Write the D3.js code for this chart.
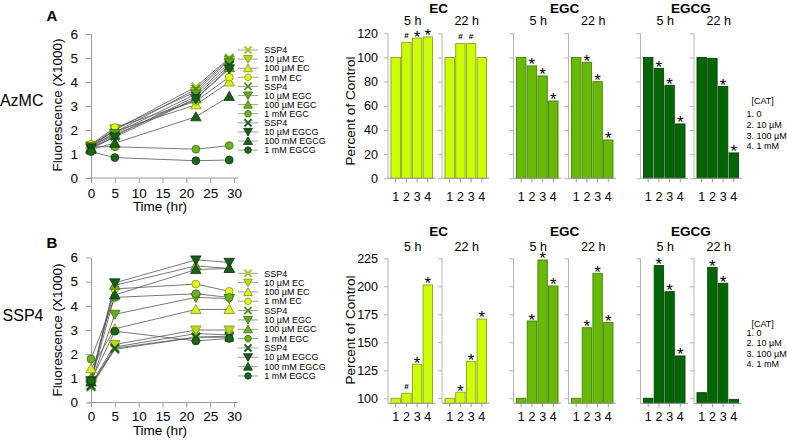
<!DOCTYPE html>
<html><head><meta charset="utf-8">
<script src="https://cdn.jsdelivr.net/npm/d3@7"></script>
<style>
body{margin:0;background:#fff}
svg{display:block}
text{font-family:Arial,"Liberation Sans",sans-serif}
</style>
</head><body>
<svg id="c" width="787" height="443"></svg>
<script>
// ---------------- DATA ----------------
const timePoints = [0, 5, 22, 29];
const seriesNames = ["SSP4","10 µM EC","100 µM EC","1 mM EC","SSP4","10 µM EGC","100 µM EGC","1 mM EGC","SSP4","10 µM EGCG","100 mM EGCG","1 mM EGCG"];
const seriesGroups = ["EC","EC","EC","EC","EGC","EGC","EGC","EGC","EGCG","EGCG","EGCG","EGCG"];
const seriesShapes = ["x","down","up","circle","x","down","up","circle","x","down","up","circle"];

// Fluorescence (x1000), AzMC substrate
const azmcSeries = [
  [1.30, 2.00, 3.80, 5.00],
  [1.35, 2.05, 3.60, 4.90],
  [1.40, 1.95, 3.05, 4.00],
  [1.40, 2.10, 3.20, 4.20],
  [1.30, 1.90, 3.70, 4.95],
  [1.30, 1.85, 3.50, 4.80],
  [1.25, 1.80, 3.30, 4.60],
  [1.30, 1.30, 1.20, 1.35],
  [1.20, 1.75, 3.40, 4.70],
  [1.25, 1.70, 3.30, 4.55],
  [1.20, 1.45, 2.55, 3.40],
  [1.10, 0.85, 0.72, 0.75]
];
// Fluorescence (x1000), SSP4 substrate
const ssp4Series = [
  [0.70, 2.30, 2.85, 2.80],
  [0.75, 2.40, 3.00, 3.00],
  [1.40, 3.05, 3.85, 3.85],
  [0.95, 4.70, 4.90, 4.60],
  [0.65, 2.20, 2.70, 2.75],
  [0.80, 3.65, 4.35, 4.30],
  [1.00, 4.85, 5.65, 5.55],
  [1.80, 4.35, 4.50, 4.35],
  [0.70, 2.25, 2.70, 2.70],
  [0.90, 4.95, 5.90, 5.80],
  [0.85, 4.45, 5.50, 5.55],
  [0.90, 2.95, 2.55, 2.65]
];
const lineYTicks = [0,1,2,3,4,5,6];
const lineXTicks = [0,5,10,15,20,25,30];

const barCategories = ["1","2","3","4"];
const compounds = ["EC","EGC","EGCG"];
const times = ["5 h","22 h"];
const catLegend = ["[CAT]","1. 0","2. 10 µM","3. 100 µM","4. 1 mM"];

// Percent of control, AzMC
const azmcEC5h   = [100, 112.5, 116, 117];
const azmcEC22h  = [100, 111.5, 111.5, 100];
const azmcEGC5h  = [100, 93, 84.7, 64];
const azmcEGC22h = [100, 96, 80, 31.7];
const azmcEGCG5h = [100, 91, 77, 45];
const azmcEGCG22h= [100, 99.3, 76, 21];
const azmcEC5hSig   = ["","#","*","*"];
const azmcEC22hSig  = ["","#","#",""];
const azmcEGC5hSig  = ["","*","*","*"];
const azmcEGC22hSig = ["","*","*","*"];
const azmcEGCG5hSig = ["","*","*","*"];
const azmcEGCG22hSig= ["","","*","*"];
const azmcBarTicks = [0,20,40,60,80,100,120];

// Percent of control, SSP4
const ssp4EC5h   = [100, 104.5, 130.4, 201.2];
const ssp4EC22h  = [100, 105.4, 132.7, 170.8];
const ssp4EGC5h  = [100, 169, 223.5, 200.3];
const ssp4EGC22h = [100, 163, 211.6, 167.6];
const ssp4EGCG5h = [100, 218.5, 195.2, 137.8];
const ssp4EGCG22h= [105, 216.9, 202.7, 99];
const ssp4EC5hSig   = ["","#","*","*"];
const ssp4EC22hSig  = ["","*","*","*"];
const ssp4EGC5hSig  = ["","*","*","*"];
const ssp4EGC22hSig = ["","*","*","*"];
const ssp4EGCG5hSig = ["","*","*","*"];
const ssp4EGCG22hSig= ["","*","*",""];
const ssp4BarTicks = [100,125,150,175,200,225];

// ---------------- STYLE / LAYOUT ----------------
const markerFill = ["#a6c62a","#bcd81c","#d8f21c","#e6ff20","#4f8f20","#66a81a","#6cb21f","#6cb21f","#1a5c1a","#1a5c1a","#1a5c1a","#1a661a"];
const groupStroke = {EC:"#7f9410", EGC:"#3c6e12", EGCG:"#0b3b0b"};
const barFill = {EC:"#ccff00", EGC:"#66bb00", EGCG:"#006600"};
const barStroke = {EC:"#8c9c30", EGC:"#4a7d14", EGCG:"#0c420c"};
const panelX = {EC:[388,442], EGC:[513.5,568.5], EGCG:[640.5,694]};
const panelW = 47.5;

const rows = [
  {letter:"A", letterY:20.7, label:"AzMC", labelY:106,
   series:azmcSeries, lineRange:[178,34], xLabY:197.8, timeY:211.3, yLabCY:105,
   legY0:50, legStep:9.1,
   barDomain:[0,120], barRange:[178.3,33.3], barTicks:azmcBarTicks,
   bars:{EC:[azmcEC5h,azmcEC22h], EGC:[azmcEGC5h,azmcEGC22h], EGCG:[azmcEGCG5h,azmcEGCG22h]},
   sigs:{EC:[azmcEC5hSig,azmcEC22hSig], EGC:[azmcEGC5hSig,azmcEGC22hSig], EGCG:[azmcEGCG5hSig,azmcEGCG22hSig]},
   headY:12.5, subY:24.5, catY:201.5, pocCY:111,
   catLegY:[103.5,116.8,127.8,138.5,149.2]},
  {letter:"B", letterY:247.7, label:"SSP4", labelY:321,
   series:ssp4Series, lineRange:[402.5,257.5], xLabY:421, timeY:434.5, yLabCY:330,
   legY0:273.3, legStep:9.33,
   barDomain:[95.5,225], barRange:[403.3,258.3], barTicks:ssp4BarTicks,
   bars:{EC:[ssp4EC5h,ssp4EC22h], EGC:[ssp4EGC5h,ssp4EGC22h], EGCG:[ssp4EGCG5h,ssp4EGCG22h]},
   sigs:{EC:[ssp4EC5hSig,ssp4EC22hSig], EGC:[ssp4EGC5hSig,ssp4EGC22hSig], EGCG:[ssp4EGCG5hSig,ssp4EGCG22hSig]},
   headY:235.5, subY:250.5, catY:421, pocCY:330,
   catLegY:[327,335.5,346,356.7,367.3]}
];

const svg = d3.select("#c");
const AX = "#9a9a9a";

function symPath(shape, size){
  const t = shape==="x" ? d3.symbolX : shape==="circle" ? d3.symbolCircle : d3.symbolTriangle;
  return d3.symbol().type(t).size(size)();
}
function drawMarker(g, cx, cy, i, size){
  const shape = seriesShapes[i];
  const p = g.append("path").attr("d", symPath(shape, size))
    .attr("transform", `translate(${cx},${cy})` + (shape==="down" ? " rotate(180)" : "") + (shape==="up"||shape==="down" ? " translate(0,1)" : ""));
  if (shape==="x") {
    p.attr("fill","none").attr("stroke", markerFill[i]).attr("stroke-width",1.9);
  } else {
    p.attr("fill", markerFill[i]).attr("stroke", groupStroke[seriesGroups[i]]).attr("stroke-width",0.8);
  }
}

function styleAxis(a, fs){
  a.attr("font-family", null).attr("font-size", null);
  a.selectAll(".domain").attr("stroke", AX);
  a.selectAll(".tick line").attr("stroke", AX);
  a.selectAll(".tick text").attr("fill","#000").style("font-size", fs+"px");
}

rows.forEach(row => {
  // ---- letters & row label
  svg.append("text").attr("x",46.5).attr("y",row.letterY).text(row.letter)
    .style("font-weight","bold").style("font-size","15px");
  svg.append("text").attr("x",43.5).attr("y",row.labelY).attr("text-anchor","end").text(row.label)
    .style("font-size","16px");

  // ---- line chart
  const x = d3.scaleLinear().domain([0,30]).range([91,234]);
  const y = d3.scaleLinear().domain([0,6]).range(row.lineRange);
  const ay = svg.append("g").attr("transform","translate(91,0)")
    .call(d3.axisLeft(y).tickValues(lineYTicks).tickFormat(d3.format("d")).tickSize(5).tickSizeOuter(0).tickPadding(8));
  styleAxis(ay, 13.5);
  const ax = svg.append("g").attr("transform",`translate(0,${row.lineRange[0]})`)
    .call(d3.axisBottom(x).tickValues(lineXTicks).tickFormat(d3.format("d")).tickSize(5).tickSizeOuter(0).tickPadding(5));
  styleAxis(ax, 13.5);
  ax.selectAll(".tick text").attr("dy", null).attr("y", row.xLabY - row.lineRange[0]);
  ax.select(".domain").attr("d", `M88,0H238`);

  svg.append("text").attr("transform",`translate(62,${row.yLabCY}) rotate(-90)`)
    .attr("text-anchor","middle").text("Fluorescence (X1000)").style("font-size","13.5px");
  svg.append("text").attr("x",160).attr("y",row.timeY).attr("text-anchor","middle")
    .text("Time (hr)").style("font-size","13.5px");

  const line = d3.line().x((d,k)=>x(timePoints[k])).y(d=>y(d));
  const gl = svg.append("g");
  row.series.forEach(s => {
    gl.append("path").attr("d", line(s)).attr("fill","none").attr("stroke","#555").attr("stroke-width",0.8);
  });
  const gm = svg.append("g");
  row.series.forEach((s,i) => {
    s.forEach((v,k) => drawMarker(gm, x(timePoints[k]), y(v), i, 48));
  });

  // ---- line legend
  const lg = svg.append("g");
  seriesNames.forEach((nm,i) => {
    const yy = row.legY0 + i*row.legStep;
    lg.append("line").attr("x1",238).attr("x2",258).attr("y1",yy).attr("y2",yy)
      .attr("stroke","#888").attr("stroke-width",0.8);
    drawMarker(lg, 248, yy, i, 34);
    lg.append("text").attr("x",264.3).attr("y",yy+3.2).text(nm).style("font-size","9px");
  });

  // ---- bar charts
  const yb = d3.scaleLinear().domain(row.barDomain).range(row.barRange);
  const base = yb(row.barDomain[0]);
  compounds.forEach(c => {
    const px = panelX[c];
    const cx = (px[0] + px[1] + panelW) / 2;
    svg.append("text").attr("x",cx).attr("y",row.headY).attr("text-anchor","middle")
      .text(c).style("font-weight","bold").style("font-size","13.5px");
    times.forEach((t,ti) => {
      const x0 = px[ti];
      const xb = d3.scaleBand().domain(barCategories).range([x0, x0+panelW]).paddingInner(0.12).paddingOuter(0.28);
      svg.append("text").attr("x", x0+panelW/2+1).attr("y", row.subY).attr("text-anchor","middle")
        .text(t).style("font-size","12.5px");
      // y axis
      const yAx = d3.axisLeft(yb).tickValues(row.barTicks).tickFormat(d3.format("d")).tickSize(4).tickSizeOuter(0).tickPadding(6);
      const ga = svg.append("g").attr("transform",`translate(${x0},0)`).call(yAx);
      styleAxis(ga, 12.5);
      ga.select(".domain").attr("d", `M0,${base}V${row.barRange[1]}`).attr("stroke","#b5b5b5");
      ga.selectAll(".tick line").attr("stroke","#b5b5b5");
      if (!(c==="EC" && ti===0)) ga.selectAll(".tick text").remove();
      // bars
      const vals = row.bars[c][ti], sig = row.sigs[c][ti];
      svg.append("g").selectAll("rect").data(vals).join("rect")
        .attr("x",(d,k)=>xb(barCategories[k])).attr("width", xb.bandwidth())
        .attr("y", d=>yb(d)).attr("height", d=>base - yb(d))
        .attr("fill", barFill[c]).attr("stroke", barStroke[c]).attr("stroke-width",0.9);
      // x axis
      const xAx = d3.axisBottom(xb).tickSize(4).tickSizeOuter(0).tickPadding(8);
      const gx = svg.append("g").attr("transform",`translate(0,${base})`).call(xAx);
      styleAxis(gx, 12.5);
      gx.select(".domain").attr("d", `M${x0},0H${x0+panelW}`).attr("stroke","#9a9a9a");
      gx.selectAll(".tick text").attr("dy",null).attr("y", row.catY - base);
      // significance marks
      sig.forEach((m,k) => {
        if (!m) return;
        const bx = xb(barCategories[k]) + xb.bandwidth()/2;
        const by = yb(vals[k]);
        if (m==="*") {
          svg.append("text").attr("x",bx).attr("y",by+4.5).attr("text-anchor","middle")
            .text("*").style("font-size","17px");
        } else {
          svg.append("text").attr("x",bx).attr("y",by-4.5).attr("text-anchor","middle")
            .text("#").style("font-size","8px").style("font-weight","bold");
        }
      });
    });
  });
  // Percent of Control label
  svg.append("text").attr("transform",`translate(354.5,${row.pocCY}) rotate(-90)`)
    .attr("text-anchor","middle").text("Percent of Control").style("font-size","13.5px");
  // CAT legend
  catLegend.forEach((s,k) => {
    svg.append("text").attr("x", k===0 ? 751.5 : 746.5).attr("y", row.catLegY[k]).text(s).style("font-size","9px");
  });
});
</script>
</body></html>
